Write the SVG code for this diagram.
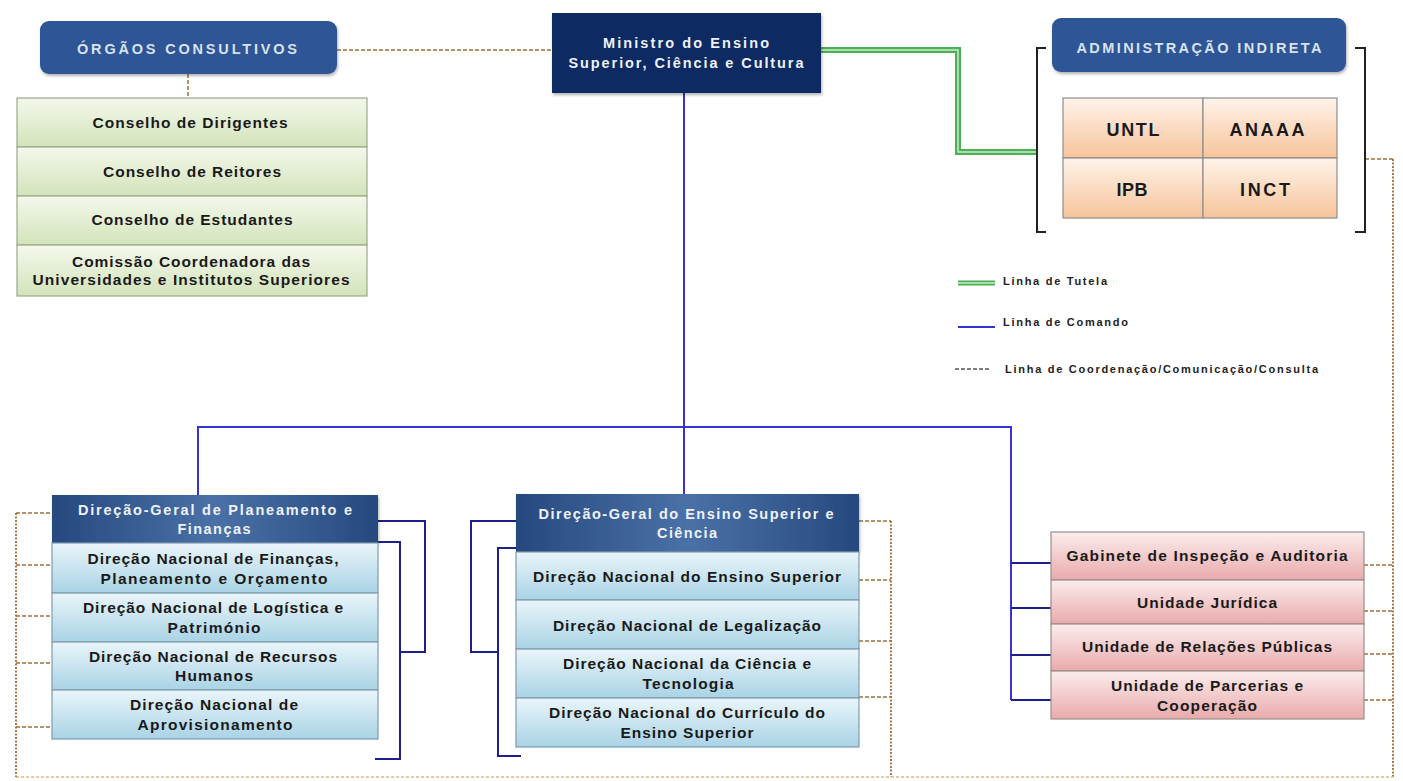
<svg xmlns="http://www.w3.org/2000/svg" width="1403" height="781" viewBox="0 0 1403 781">
<defs>
<linearGradient id="gGreen" x1="0" y1="0" x2="0" y2="1"><stop offset="0" stop-color="#F4F8EC"/><stop offset="1" stop-color="#D3E3BA"/></linearGradient>
<linearGradient id="gBlue" x1="0" y1="0" x2="0" y2="1"><stop offset="0" stop-color="#EAF5FA"/><stop offset="1" stop-color="#A9D3E5"/></linearGradient>
<linearGradient id="gPink" x1="0" y1="0" x2="0" y2="1"><stop offset="0" stop-color="#FBEDED"/><stop offset="1" stop-color="#E9AAAB"/></linearGradient>
<linearGradient id="gPeach" x1="0" y1="0" x2="0" y2="1"><stop offset="0" stop-color="#FEF3EA"/><stop offset="1" stop-color="#F7C49B"/></linearGradient>
<linearGradient id="gHead" x1="0" y1="0" x2="1" y2="0"><stop offset="0" stop-color="#26497F"/><stop offset="0.5" stop-color="#4A71A7"/><stop offset="1" stop-color="#26497F"/></linearGradient>
<filter id="sh" x="-5%" y="-10%" width="110%" height="125%"><feDropShadow dx="1" dy="2" stdDeviation="1.5" flood-color="#000" flood-opacity="0.3"/></filter>
</defs>
<style>
text{font-family:"Liberation Sans",Arial,sans-serif;font-weight:bold;text-anchor:middle}
.lst{font-size:15.5px;fill:#1A1A1A}
.wh{font-size:14.5px;fill:#EEF2F8}
.cap{font-size:14.5px;fill:#D8E2EE}
.big{font-size:18px;fill:#1A1A1A}
.leg{font-size:11px;fill:#222;text-anchor:start}
.cmd{fill:none;stroke:#3434D0;stroke-width:2}
.cmd2{fill:none;stroke:#1E1E8C;stroke-width:2}
.dash{fill:none;stroke:#A0703C;stroke-width:1.5;stroke-dasharray:4 2}
.dot{fill:none;stroke:#A87B48;stroke-width:2;stroke-dasharray:2 1.5}
.faint{fill:none;stroke:#E9C9A0;stroke-width:2;stroke-dasharray:3 2}
.brk{fill:none;stroke:#222;stroke-width:2}
.tutO{fill:none;stroke:#4DAE55;stroke-width:6}
.tutI{fill:none;stroke:#C9ECC9;stroke-width:1.5}
.rowG{fill:url(#gGreen);stroke:#9BA88A;stroke-width:1.2}
.rowB{fill:url(#gBlue);stroke:#7E9CAE;stroke-width:1.2}
.rowP{fill:url(#gPink);stroke:#9C8C8C;stroke-width:1.2}
.rowO{fill:url(#gPeach);stroke:#8E8E8E;stroke-width:1.2}
</style>
<rect width="1403" height="781" fill="#FFFFFF"/>

<g id="connectors">
<path class="dash" d="M337,50 H552"/>
<path class="dash" d="M188,74 V98"/>
<path class="dash" d="M1365,159 H1393"/>
<path class="dot" d="M1393,159 V777"/>
<path class="dash" d="M1364,565 H1393 M1364,611 H1393 M1364,654 H1393 M1364,700 H1393"/>
<path class="faint" d="M16,777 H1393"/>
<path class="dot" d="M16,513 V777"/>
<path class="dash" d="M16,513 H52 M16,565 H52 M16,616 H52 M16,663 H52 M16,727 H52"/>
<path class="dot" d="M891,521 V777"/>
<path class="dash" d="M859,521 H891 M859,580 H891 M859,641 H891 M859,697 H891"/>
<path class="tutO" d="M821,50 H958 V152 H1037"/>
<path class="tutI" d="M821,50 H958 V152 H1037"/>
<path class="cmd" d="M684,93 V494"/>
<path class="cmd" d="M198,495 V427 H1011 V700"/>
<path class="cmd2" d="M1011,563 H1051 M1011,608 H1051 M1011,655 H1051 M1011,700 H1051"/>
<path class="cmd2" d="M378,521 H425 V652 H400"/>
<path class="cmd2" d="M378,542 H400 V759 H375"/>
<path class="cmd2" d="M516,521 H471 V652 H498"/>
<path class="cmd2" d="M516,548 H498 V756 H521"/>
<path class="brk" d="M1046,48 H1037 V232 H1046"/>
<path class="brk" d="M1355,48 H1365 V232 H1355"/>
</g>

<g id="orgaos-consultivos">
<rect x="40" y="21" width="297" height="53" rx="9" fill="#2D5595" filter="url(#sh)"/>
<text class="cap" x="187" y="54" textLength="220" lengthAdjust="spacing">ÓRGÃOS CONSULTIVOS</text>
</g>
<g id="conselhos">
<rect class="rowG" x="17" y="98" width="350" height="49"/>
<rect class="rowG" x="17" y="147" width="350" height="49"/>
<rect class="rowG" x="17" y="196" width="350" height="49"/>
<rect class="rowG" x="17" y="245" width="350" height="51"/>
<text class="lst" x="190" y="128" textLength="195" lengthAdjust="spacing">Conselho de Dirigentes</text>
<text class="lst" x="192" y="177" textLength="178" lengthAdjust="spacing">Conselho de Reitores</text>
<text class="lst" x="192" y="225" textLength="201" lengthAdjust="spacing">Conselho de Estudantes</text>
<text class="lst" x="191" y="267" textLength="238" lengthAdjust="spacing">Comissão Coordenadora das</text>
<text class="lst" x="191" y="285" textLength="317" lengthAdjust="spacing">Universidades e Institutos Superiores</text>
</g>

<g id="ministro">
<rect x="552" y="13" width="269" height="80" fill="#0C2A62" filter="url(#sh)"/>
<text class="wh" x="686" y="48" textLength="166" lengthAdjust="spacing">Ministro do Ensino</text>
<text class="wh" x="686" y="68" textLength="235" lengthAdjust="spacing">Superior, Ciência e Cultura</text>
</g>

<g id="administracao-indireta">
<rect x="1052" y="18" width="294" height="54" rx="9" fill="#2D5595" filter="url(#sh)"/>
<text class="cap" x="1199" y="53" textLength="245" lengthAdjust="spacing">ADMINISTRAÇÃO INDIRETA</text>
<rect class="rowO" x="1063" y="98" width="140" height="60"/>
<rect class="rowO" x="1203" y="98" width="134" height="60"/>
<rect class="rowO" x="1063" y="158" width="140" height="60"/>
<rect class="rowO" x="1203" y="158" width="134" height="60"/>
<text class="big" x="1133" y="136" textLength="53" lengthAdjust="spacing">UNTL</text>
<text class="big" x="1267" y="136" textLength="75" lengthAdjust="spacing">ANAAA</text>
<text class="big" x="1132" y="196" textLength="31" lengthAdjust="spacing">IPB</text>
<text class="big" x="1265" y="196" textLength="50" lengthAdjust="spacing">INCT</text>
</g>

<g id="legenda">
<path class="tutO" d="M958,283 H995" style="stroke-width:5"/>
<path class="tutI" d="M958,283 H995"/>
<path class="cmd" d="M958,327 H995"/>
<path class="dash" d="M955,369 H990" style="stroke:#555"/>
<text class="leg" x="1003" y="285" textLength="104" lengthAdjust="spacing">Linha de Tutela</text>
<text class="leg" x="1003" y="326" textLength="125" lengthAdjust="spacing">Linha de Comando</text>
<text class="leg" x="1005" y="373" textLength="313" lengthAdjust="spacing">Linha de Coordenação/Comunicação/Consulta</text>
</g>

<g id="dg-planeamento">
<rect x="52" y="495" width="326" height="48" fill="url(#gHead)" filter="url(#sh)"/>
<text class="wh" x="215" y="515" textLength="274" lengthAdjust="spacing">Direção-Geral de Planeamento e</text>
<text class="wh" x="214" y="534" textLength="73" lengthAdjust="spacing">Finanças</text>
<rect class="rowB" x="52" y="543" width="326" height="50"/>
<rect class="rowB" x="52" y="593" width="326" height="49"/>
<rect class="rowB" x="52" y="642" width="326" height="48"/>
<rect class="rowB" x="52" y="690" width="326" height="49"/>
<text class="lst" x="213" y="564" textLength="251" lengthAdjust="spacing">Direção Nacional de Finanças,</text>
<text class="lst" x="214" y="584" textLength="227" lengthAdjust="spacing">Planeamento e Orçamento</text>
<text class="lst" x="213" y="613" textLength="260" lengthAdjust="spacing">Direção Nacional de Logística e</text>
<text class="lst" x="214" y="633" textLength="93" lengthAdjust="spacing">Património</text>
<text class="lst" x="213" y="662" textLength="248" lengthAdjust="spacing">Direção Nacional de Recursos</text>
<text class="lst" x="214" y="681" textLength="78" lengthAdjust="spacing">Humanos</text>
<text class="lst" x="214" y="710" textLength="168" lengthAdjust="spacing">Direção Nacional de</text>
<text class="lst" x="215" y="730" textLength="155" lengthAdjust="spacing">Aprovisionamento</text>
</g>

<g id="dg-ensino-superior">
<rect x="516" y="494" width="343" height="58" fill="url(#gHead)" filter="url(#sh)"/>
<text class="wh" x="686" y="519" textLength="295" lengthAdjust="spacing">Direção-Geral do Ensino Superior e</text>
<text class="wh" x="687" y="538" textLength="60" lengthAdjust="spacing">Ciência</text>
<rect class="rowB" x="516" y="552" width="343" height="48"/>
<rect class="rowB" x="516" y="600" width="343" height="49"/>
<rect class="rowB" x="516" y="649" width="343" height="49"/>
<rect class="rowB" x="516" y="698" width="343" height="49"/>
<text class="lst" x="687" y="582" textLength="308" lengthAdjust="spacing">Direção Nacional do Ensino Superior</text>
<text class="lst" x="687" y="631" textLength="268" lengthAdjust="spacing">Direção Nacional de Legalização</text>
<text class="lst" x="687" y="669" textLength="248" lengthAdjust="spacing">Direção Nacional da Ciência e</text>
<text class="lst" x="688" y="689" textLength="91" lengthAdjust="spacing">Tecnologia</text>
<text class="lst" x="687" y="718" textLength="276" lengthAdjust="spacing">Direção Nacional do Currículo do</text>
<text class="lst" x="687" y="738" textLength="133" lengthAdjust="spacing">Ensino Superior</text>
</g>

<g id="unidades">
<rect class="rowP" x="1051" y="532" width="313" height="48"/>
<rect class="rowP" x="1051" y="580" width="313" height="44"/>
<rect class="rowP" x="1051" y="624" width="313" height="47"/>
<rect class="rowP" x="1051" y="671" width="313" height="48"/>
<text class="lst" x="1207" y="561" textLength="281" lengthAdjust="spacing">Gabinete de Inspeção e Auditoria</text>
<text class="lst" x="1207" y="608" textLength="140" lengthAdjust="spacing">Unidade Jurídica</text>
<text class="lst" x="1207" y="652" textLength="250" lengthAdjust="spacing">Unidade de Relações Públicas</text>
<text class="lst" x="1207" y="691" textLength="192" lengthAdjust="spacing">Unidade de Parcerias e</text>
<text class="lst" x="1207" y="711" textLength="100" lengthAdjust="spacing">Cooperação</text>
</g>
</svg>
